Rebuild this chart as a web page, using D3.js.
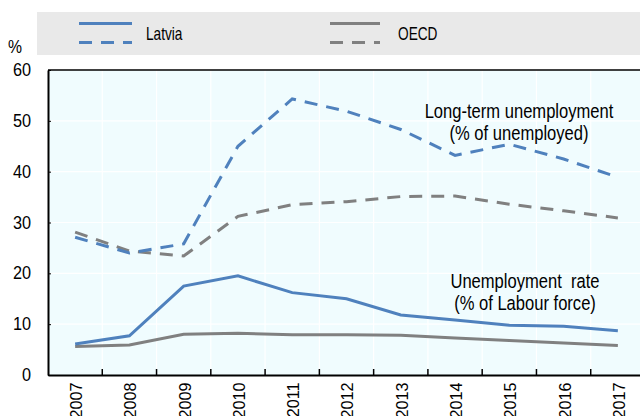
<!DOCTYPE html>
<html>
<head>
<meta charset="utf-8">
<script src="https://cdn.jsdelivr.net/npm/d3@7"></script>
<style>
  html, body { margin: 0; padding: 0; background: #fff; }
  svg { display: block; font-family: "Liberation Sans", Arial, sans-serif; }
</style>
</head>
<body>
<svg id="chart" width="640" height="416"></svg>
<script>
const years = ["2007","2008","2009","2010","2011","2012","2013","2014","2015","2016","2017"];
const latviaUnemp = [6.1, 7.7, 17.5, 19.5, 16.2, 15.0, 11.8, 10.8, 9.8, 9.6, 8.7];
const oecdUnemp   = [5.6, 5.9, 8.0, 8.2, 7.9, 7.9, 7.8, 7.3, 6.8, 6.3, 5.8];
const latviaLTU   = [27.1, 24.0, 25.8, 45.0, 54.3, 51.9, 48.3, 43.2, 45.4, 42.5, 38.9];
const oecdLTU     = [28.1, 24.4, 23.4, 31.2, 33.5, 34.1, 35.1, 35.2, 33.6, 32.3, 30.9];
const yTicks = [0, 10, 20, 30, 40, 50, 60];
const legendItems = ["Latvia", "OECD"];

const blue = "#4f81bd", grey = "#808080";
const svg = d3.select("#chart");
const mLeft = 48, mRight = 645, mTop = 70, mBottom = 375;

const x = d3.scaleBand().domain(years).range([mLeft, mRight]).padding(0);
const y = d3.scaleLinear().domain([0, 60]).range([mBottom, mTop]);
const cx = d => x(d) + x.bandwidth() / 2;

// plot background
svg.append("rect").attr("x", mLeft).attr("y", mTop).attr("width", 640 - mLeft).attr("height", mBottom - mTop)
  .attr("fill", "#f0fcfe");

// grid
svg.append("g").selectAll("line").data(yTicks.slice(1)).join("line")
  .attr("x1", mLeft).attr("x2", 640).attr("y1", d => y(d)).attr("y2", d => y(d))
  .attr("stroke", "#fff").attr("stroke-width", 1.2);
svg.append("g").selectAll("line").data(years.slice(1)).join("line")
  .attr("x1", d => x(d)).attr("x2", d => x(d)).attr("y1", mTop).attr("y2", mBottom)
  .attr("stroke", "#fff").attr("stroke-width", 1.2);

// top border
svg.append("line").attr("x1", mLeft).attr("x2", 640).attr("y1", mTop).attr("y2", mTop)
  .attr("stroke", "#000").attr("stroke-width", 1.5);

// y axis (small inward ticks)
const yAxis = d3.axisLeft(y).tickValues(yTicks).tickSizeInner(-3).tickSizeOuter(0).tickPadding(17);
const gy = svg.append("g").attr("transform", `translate(${mLeft},0)`).call(yAxis);
gy.select(".domain").attr("stroke", "#000").attr("stroke-width", 2);
gy.selectAll(".tick line").attr("stroke", "#000").attr("stroke-width", 1);
gy.selectAll("text").attr("font-size", 17.5).attr("fill", "#000")
  .each(function() {
    const t = d3.select(this);
    const ty = d3.select(this.parentNode).attr("transform");
    t.attr("x", null).attr("transform", "translate(-17,0) scale(0.93,1)");
  });

// x axis
const xAxis = d3.axisBottom(x).tickSize(0).tickPadding(6);
const gx = svg.append("g").attr("transform", `translate(0,${mBottom})`).call(xAxis);
gx.select(".domain").attr("stroke", "#000").attr("stroke-width", 2);
gx.selectAll("text").attr("font-size", 17).attr("fill", "#000")
  .attr("transform", "rotate(-90) scale(0.95,1)").attr("text-anchor", "end")
  .attr("x", -8).attr("y", 1).attr("dy", "0.35em");
// ticks on band boundaries, pointing up
gx.append("g").selectAll("line").data(years.slice(1)).join("line")
  .attr("x1", d => x(d)).attr("x2", d => x(d)).attr("y1", 0).attr("y2", -6)
  .attr("stroke", "#000").attr("stroke-width", 1.5);

// lines
const line = d3.line().x((d, i) => cx(years[i])).y(d => y(d));
const series = [
  { v: oecdUnemp, c: grey, dash: null },
  { v: latviaUnemp, c: blue, dash: null },
  { v: oecdLTU, c: grey, dash: "13,9" },
  { v: latviaLTU, c: blue, dash: "13,9" }
];
svg.append("g").selectAll("path").data(series).join("path")
  .attr("d", d => line(d.v))
  .attr("fill", "none").attr("stroke", d => d.c).attr("stroke-width", 3)
  .attr("stroke-dasharray", d => d.dash);

// narrow text helper
function label(parent, tx, ty, str, size, sx, anchor) {
  return parent.append("text")
    .attr("transform", `translate(${tx},${ty}) scale(${sx},1)`)
    .attr("font-size", size).attr("fill", "#000")
    .attr("text-anchor", anchor || "start")
    .attr("xml:space", "preserve")
    .text(str);
}

// annotations
const ann = svg.append("g");
label(ann, 519, 118, "Long-term unemployment", 19.5, 0.85, "middle");
label(ann, 519, 140, "(% of unemployed)", 19.5, 0.85, "middle");
label(ann, 525, 288, "Unemployment  rate", 19.5, 0.85, "middle");
label(ann, 525, 310, "(% of Labour force)", 19.5, 0.85, "middle");

// legend
svg.append("rect").attr("x", 37).attr("y", 12).attr("width", 603).attr("height", 43).attr("fill", "#e9e9e9");
const legX = [79, 330];
const legW = [53, 50];
const leg = svg.append("g").selectAll("g").data(legendItems).join("g")
  .attr("transform", (d, i) => `translate(${legX[i]},0)`);
leg.append("line").attr("x1", 0).attr("x2", (d, i) => legW[i]).attr("y1", 23.5).attr("y2", 23.5)
  .attr("stroke", (d, i) => i === 0 ? blue : grey).attr("stroke-width", 3);
leg.append("line").attr("x1", 0).attr("x2", (d, i) => legW[i]).attr("y1", 42.5).attr("y2", 42.5)
  .attr("stroke", (d, i) => i === 0 ? blue : grey).attr("stroke-width", 3).attr("stroke-dasharray", "13,9");
leg.each(function(d, i) {
  label(d3.select(this), i === 0 ? 67 : 68, 40, d, 18, 0.76, "start");
});

// unit label
label(svg, 8, 53, "%", 17.5, 0.9, "start");
</script>
</body>
</html>
